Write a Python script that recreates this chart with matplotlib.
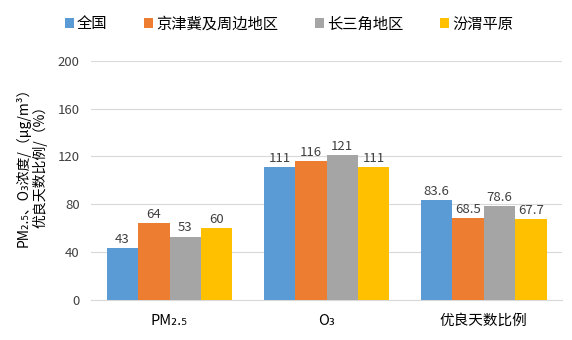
import numpy as np
import matplotlib
matplotlib.use('Agg')
import matplotlib.pyplot as plt

plt.rcParams['font.family'] = ['Noto Sans CJK SC', 'DejaVu Sans']

categories = ['PM₂.₅', 'O₃', '优良天数比例']
regions = ['全国', '京津冀及周边地区', '长三角地区', '汾渭平原']
national = [43, 111, 83.6]
jjj = [64, 116, 68.5]
yrd = [53, 121, 78.6]
fenwei = [60, 111, 67.7]
labels = [
    ['43', '111', '83.6'],
    ['64', '116', '68.5'],
    ['53', '121', '78.6'],
    ['60', '111', '67.7'],
]
colors = ['#5B9BD5', '#ED7D31', '#A5A5A5', '#FFC000']

fig = plt.figure(figsize=(5.72, 3.40), dpi=100)
ax = fig.add_axes([0.159, 0.118, 0.824, 0.703])

x = np.arange(len(categories))
width = 0.2
series = [national, jjj, yrd, fenwei]
for i, (vals, name, c) in enumerate(zip(series, regions, colors)):
    pos = x + (i - 1.5) * width
    ax.bar(pos, vals, width=width, color=c, label=name, zorder=3)
    for p, v, t in zip(pos, vals, labels[i]):
        ax.text(p, v + 2, t, ha='center', va='bottom', fontsize=9.5, color='#404040')

ax.set_xlim(-0.5, 2.5)
ax.set_ylim(0, 200)
ax.set_yticks(range(0, 201, 40))
ax.set_xticks(x)
ax.set_xticklabels(categories, fontsize=10.5)
ax.tick_params(axis='y', labelsize=9.5, colors='#404040', length=0, pad=8)
ax.tick_params(axis='x', length=0, pad=10)
ax.grid(axis='y', color='#D9D9D9', linewidth=0.8, zorder=0)
for s in ['top', 'right', 'left']:
    ax.spines[s].set_visible(False)
ax.spines['bottom'].set_color('#D9D9D9')

# two-line axis title, nudged up like the original layout
ax.set_ylabel('PM₂.₅、O₃浓度/（μg/m³）\n优良天数比例/（%）', fontsize=10, linespacing=1.15)
ax.yaxis.set_label_coords(-0.092, 0.57)

fig.legend(loc='upper center', bbox_to_anchor=(0.505, 0.995), ncol=4, frameon=False,
           fontsize=11, handlelength=0.6, handleheight=0.6, handletextpad=0.2,
           columnspacing=2.4)

fig.savefig('out.png', dpi=100)
